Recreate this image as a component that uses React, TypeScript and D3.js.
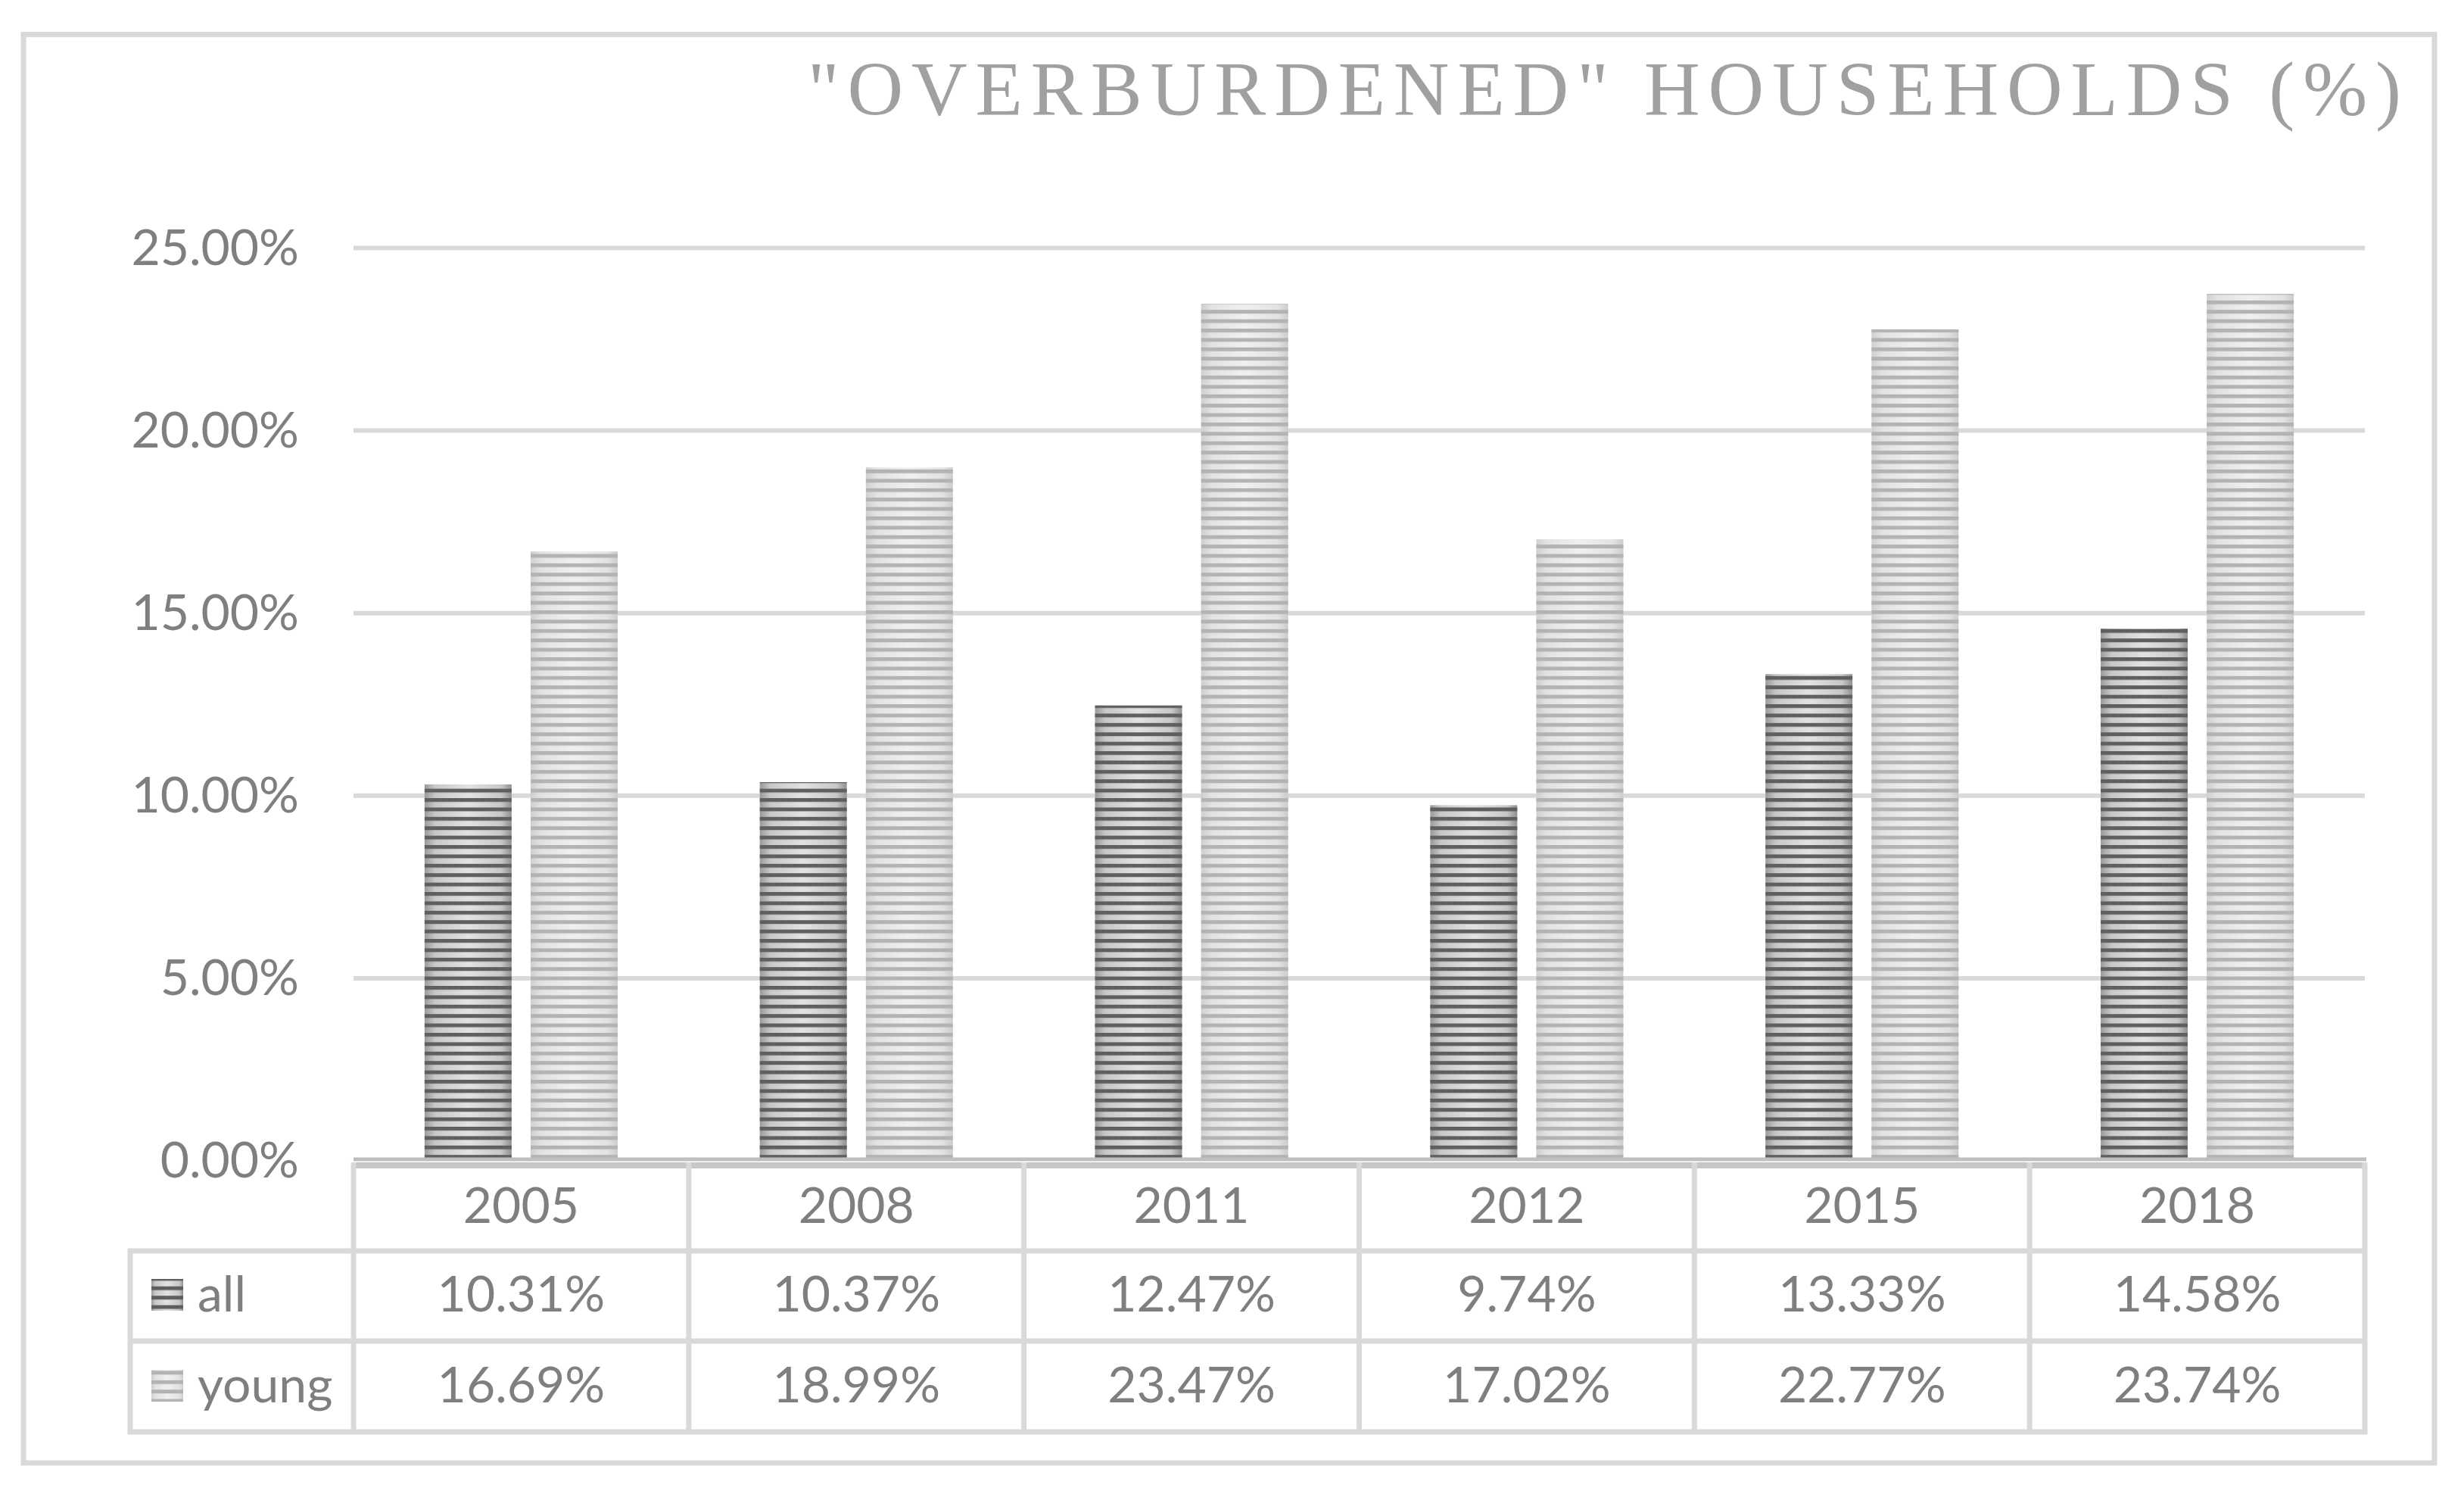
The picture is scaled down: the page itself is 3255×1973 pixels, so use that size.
import React from "react";
import * as d3 from "d3";

const years = ["2005", "2008", "2011", "2012", "2015", "2018"];
const allValues = [10.31, 10.37, 12.47, 9.74, 13.33, 14.58];
const youngValues = [16.69, 18.99, 23.47, 17.02, 22.77, 23.74];
const seriesNames = ["all", "young"];
const yTicks = [0, 5, 10, 15, 20, 25];
const titleText = "\"OVERBURDENED\" HOUSEHOLDS (%)";

const W = 3255;
const H = 1973;
const TEXT = "#7f7f7f";
const LINE = "#d9d9d9";
const FONT = "Lato, 'Open Sans', sans-serif";

export default function App() {
  const plotLeft = 467;
  const plotRight = 3124;
  const x0 = d3
    .scaleBand<string>()
    .domain(years)
    .range([plotLeft, plotRight])
    .paddingInner(0.424)
    .paddingOuter(0.212);
  const x1 = d3
    .scaleBand<string>()
    .domain(seriesNames)
    .range([0, x0.bandwidth()])
    .paddingInner(0.18);
  const y = d3.scaleLinear().domain([0, 25]).range([1533, 327.5]);
  const step = x0.step();
  const colEdges = d3.range(years.length + 1).map((i) => plotLeft + i * step);

  const seriesData: Record<string, number[]> = { all: allValues, young: youngValues };

  const tableTop = 1539;
  const rowLines = [1652, 1771, 1891];
  const legendLeft = 172;
  const fmt = (v: number) => v.toFixed(2) + "%";

  return (
    <svg
      width={W}
      height={H}
      style={{ position: "absolute", left: 0, top: 0, background: "#fff" }}
    >
      <defs>
        <linearGradient id="bg-all" x1="0" x2="1" y1="0" y2="0">
          <stop offset="0" stopColor="#9a9a9a" />
          <stop offset="0.12" stopColor="#c8c8c8" />
          <stop offset="0.5" stopColor="#e2e2e2" />
          <stop offset="0.88" stopColor="#c8c8c8" />
          <stop offset="1" stopColor="#8f8f8f" />
        </linearGradient>
        <linearGradient id="bg-young" x1="0" x2="1" y1="0" y2="0">
          <stop offset="0" stopColor="#cfcfcf" />
          <stop offset="0.12" stopColor="#e2e2e2" />
          <stop offset="0.5" stopColor="#f0f0f0" />
          <stop offset="0.88" stopColor="#e2e2e2" />
          <stop offset="1" stopColor="#cccccc" />
        </linearGradient>
        <pattern id="st-all" patternUnits="userSpaceOnUse" width="20" height="12.4">
          <rect x="0" y="0" width="20" height="5" fill="#5f5f5f" />
        </pattern>
        <pattern id="st-young" patternUnits="userSpaceOnUse" width="20" height="12.4">
          <rect x="0" y="0" width="20" height="5" fill="#b3b3b3" />
        </pattern>
      </defs>

      <rect x={0} y={0} width={W} height={H} fill="#fff" />

      {/* outer border */}
      <rect x={31} y={45.5} width={3216 - 31} height={1932 - 45.5} fill="none" stroke={LINE} strokeWidth={7} />

      {/* title */}
      <text
        x={1067}
        y={152}
        textLength={2105}
        lengthAdjust="spacing"
        fontFamily="'Liberation Serif', 'Times New Roman', serif"
        fontSize={102}
        fill="#a0a0a0"
      >
        {titleText}
      </text>

      {/* gridlines */}
      {yTicks
        .filter((t) => t > 0)
        .map((t) => (
          <line key={"g" + t} x1={plotLeft} x2={plotRight} y1={y(t)} y2={y(t)} stroke={LINE} strokeWidth={6} />
        ))}

      {/* y tick labels */}
      {yTicks.map((t) => (
        <text
          key={"yt" + t}
          x={395}
          y={y(t) + 22}
          textAnchor="end"
          fontFamily={FONT}
          fontSize={66}
          fill={TEXT}
        >
          {t.toFixed(2) + "%"}
        </text>
      ))}

      {/* bars */}
      {years.map((yr, i) => (
        <g key={"grp" + yr} transform={`translate(${x0(yr)},0)`}>
          {seriesNames.map((s) => {
            const v = seriesData[s][i];
            const bx = x1(s) as number;
            const bw = x1.bandwidth();
            const top = y(v);
            const h = y(0) - top;
            return (
              <g key={s}>
                <rect x={bx} y={top} width={bw} height={h} fill={`url(#bg-${s})`} />
                <rect x={bx} y={top} width={bw} height={h} fill={`url(#st-${s})`} />
              </g>
            );
          })}
        </g>
      ))}

      {/* axis line + table top */}
      <line x1={plotLeft} x2={plotRight + 2} y1={1531} y2={1531} stroke="#bfbfbf" strokeWidth={5} />
      <line x1={plotLeft} x2={plotRight + 2} y1={tableTop} y2={tableTop} stroke="#c6c6c6" strokeWidth={8} />

      {/* table vertical lines */}
      {colEdges.map((cx, i) => (
        <line key={"cv" + i} x1={cx} x2={cx} y1={1535} y2={rowLines[2] + 3} stroke={LINE} strokeWidth={7} />
      ))}
      <line x1={legendLeft} x2={legendLeft} y1={rowLines[0] - 3} y2={rowLines[2] + 3} stroke={LINE} strokeWidth={7} />
      {rowLines.map((ry, i) => (
        <line key={"rh" + i} x1={legendLeft - 3} x2={plotRight + 3} y1={ry} y2={ry} stroke={LINE} strokeWidth={7} />
      ))}

      {/* header years */}
      {years.map((yr) => (
        <text
          key={"hy" + yr}
          x={(x0(yr) as number) + x0.bandwidth() / 2}
          y={1615}
          textAnchor="middle"
          fontFamily={FONT}
          fontSize={66}
          fill={TEXT}
        >
          {yr}
        </text>
      ))}

      {/* data rows */}
      {seriesNames.map((s, r) => {
        const baseline = r === 0 ? 1732 : 1852;
        return (
          <g key={"row" + s}>
            <rect x={200} y={baseline - 43} width={42} height={42} fill={`url(#bg-${s})`} />
            <rect x={200} y={baseline - 43} width={42} height={42} fill={`url(#st-${s})`} />
            <text x={261} y={baseline} fontFamily={FONT} fontSize={66} fill={TEXT}>
              {s}
            </text>
            {years.map((yr, i) => (
              <text
                key={yr}
                x={(x0(yr) as number) + x0.bandwidth() / 2}
                y={baseline}
                textAnchor="middle"
                fontFamily={FONT}
                fontSize={66}
                fill={TEXT}
              >
                {fmt(seriesData[s][i])}
              </text>
            ))}
          </g>
        );
      })}
    </svg>
  );
}
